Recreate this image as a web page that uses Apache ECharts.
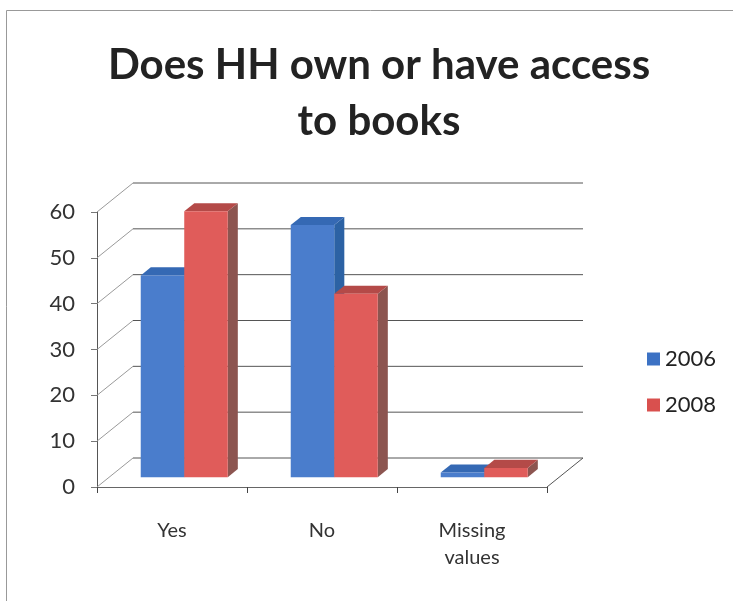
<!DOCTYPE html>
<html>
<head>
<meta charset="utf-8">
<script src="https://cdn.jsdelivr.net/npm/echarts@6/dist/echarts.min.js"></script>
<style>html,body{margin:0;padding:0;background:#fff}#c{width:733px;height:601px}</style>
</head>
<body>
<div id="c"></div>
<script>
const categories = ['Yes', 'No', 'Missing\nvalues'];
const seriesNames = ['2006', '2008'];
const values2006 = [44, 55, 1];
const values2008 = [58, 40, 2];
const yTicks = [0, 10, 20, 30, 40, 50, 60];

const DEPTH_X = 36, DEPTH_Y = -29;      // floor depth (front plane -> back wall)
const BAR_POS = 0.34, BAR_DEPTH = 0.28; // bar placement within the depth
const FONT = 'Lato, "Open Sans", sans-serif';

const faces = [
  { front: '#4A7DCC', side: '#2C62A4', top: '#3569B4', legend: '#3C72C4' },
  { front: '#E05C5A', side: '#8C5550', top: '#B44A48', legend: '#D9504E' }
];

function frameItem(params, api) {
  const v = api.value(1);
  const cs = params.coordSys;
  const y = api.coord([0, v])[1];
  const x0 = cs.x, x1 = cs.x + cs.width;
  const children = [
    { type: 'line', shape: { x1: x0, y1: y, x2: x0 + DEPTH_X, y2: y + DEPTH_Y },
      style: { stroke: '#9a9a9a', lineWidth: 1 } },
    { type: 'line', shape: { x1: x0 + DEPTH_X, y1: y + DEPTH_Y, x2: x1 + DEPTH_X, y2: y + DEPTH_Y },
      style: { stroke: '#555', lineWidth: 1 } }
  ];
  if (v === 0) {
    children.push({ type: 'line', shape: { x1: x1, y1: y, x2: x1 + DEPTH_X, y2: y + DEPTH_Y },
      style: { stroke: '#555', lineWidth: 1 } });
  }
  return { type: 'group', children };
}

function barRenderer(s) {
  return function (params, api) {
    const i = api.value(0), v = api.value(1);
    const base = api.coord([i, 0]);
    const top = api.coord([i, v]);
    const bw = api.size([1, 0])[0];
    const barW = bw * 0.29;
    const ox = DEPTH_X * BAR_POS, oy = DEPTH_Y * BAR_POS;
    const dx = DEPTH_X * BAR_DEPTH, dy = DEPTH_Y * BAR_DEPTH;
    const xl = base[0] - barW + s * barW + ox;
    const xr = xl + barW;
    const yb = base[1] + oy, yt = top[1] + oy;
    const f = faces[s];
    return { type: 'group', children: [
      { type: 'polygon', shape: { points: [[xr, yt], [xr + dx, yt + dy], [xr + dx, yb + dy], [xr, yb]] },
        style: { fill: f.side } },
      { type: 'polygon', shape: { points: [[xl, yt], [xl + dx, yt + dy], [xr + dx, yt + dy], [xr, yt]] },
        style: { fill: f.top } },
      { type: 'rect', shape: { x: xl, y: yt, width: barW, height: yb - yt },
        style: { fill: f.front } }
    ]};
  };
}

const chart = echarts.init(document.getElementById('c'), null, { renderer: 'canvas' });
chart.setOption({
  backgroundColor: '#fff',
  animation: false,
  title: {
    text: 'Does HH own or have access\nto books',
    left: 374, top: 32, textAlign: 'center',
    textStyle: { fontFamily: FONT, fontSize: 42, fontWeight: 'bold', color: '#222', lineHeight: 56 }
  },
  graphic: [{ type: 'rect', shape: { x: 6.5, y: 10.5, width: 800, height: 700 },
    style: { fill: 'none', stroke: '#999', lineWidth: 1 }, z: -1 }],
  legend: {
    orient: 'vertical', left: 642, top: 343, itemWidth: 13, itemHeight: 13, itemGap: 24,
    icon: 'rect', data: seriesNames,
    textStyle: { fontFamily: FONT, fontSize: 22, color: '#222' }
  },
  grid: { left: 97, top: 212, width: 450, height: 275 },
  xAxis: {
    type: 'category', data: categories, boundaryGap: true,
    axisLine: { lineStyle: { color: '#666' } },
    axisTick: { show: true, length: 6, lineStyle: { color: '#444' } },
    axisLabel: { fontFamily: FONT, fontSize: 20, color: '#333', margin: 30, lineHeight: 27 }
  },
  yAxis: {
    type: 'value', min: 0, max: 60, interval: 10,
    axisLine: { show: true, lineStyle: { color: '#555' } },
    axisTick: { show: true, length: 6, lineStyle: { color: '#777' } },
    splitLine: { show: false },
    axisLabel: { fontFamily: FONT, fontSize: 22, color: '#333', margin: 22 }
  },
  series: [
    { type: 'custom', name: 'frame', silent: true, z: 1,
      data: yTicks.map(v => [0, v]), renderItem: frameItem },
    { type: 'custom', name: seriesNames[0], z: 2, itemStyle: { color: faces[0].legend },
      data: values2006.map((v, i) => [i, v]), renderItem: barRenderer(0), encode: { x: 0, y: 1 } },
    { type: 'custom', name: seriesNames[1], z: 3, itemStyle: { color: faces[1].legend },
      data: values2008.map((v, i) => [i, v]), renderItem: barRenderer(1), encode: { x: 0, y: 1 } }
  ]
});
</script>
</body>
</html>
